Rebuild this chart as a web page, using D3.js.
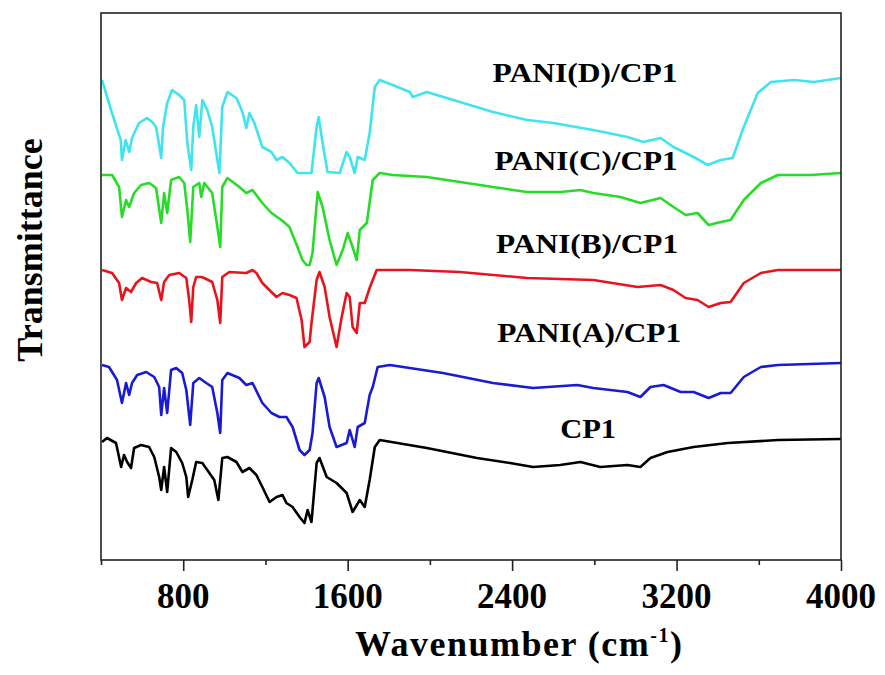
<!DOCTYPE html>
<html>
<head>
<meta charset="utf-8">
<script src="https://cdn.jsdelivr.net/npm/d3@7"></script>
<style>
  body { margin: 0; background: #fff; }
  svg { display: block; }
</style>
</head>
<body>
<svg id="chart"></svg>
<script>
// FTIR spectra, transmittance in arbitrary (offset) units

const seriesNames = ["CP1", "PANI(A)/CP1", "PANI(B)/CP1", "PANI(C)/CP1", "PANI(D)/CP1"];

const wnCP1 = [405, 429, 473, 498, 512, 527, 546, 561, 595, 634, 659, 683, 693, 707, 722, 741, 766, 795, 815, 824, 844, 863, 893, 917, 951, 971, 990, 1015, 1059, 1088, 1122, 1156, 1185, 1220, 1254, 1283, 1302, 1332, 1366, 1390, 1405, 1424, 1449, 1463, 1498, 1546, 1595, 1624, 1659, 1683, 1707, 1732, 1756, 1985, 2229, 2390, 2502, 2634, 2732, 2829, 2961, 3024, 3073, 3156, 3283, 3449, 3693, 4000];
const tCP1 = [119, 123, 118, 94, 106, 99, 93, 113, 116, 114, 104, 84, 71, 94, 69, 113, 109, 98, 84, 64, 81, 99, 98, 91, 81, 61, 103, 104, 99, 89, 93, 86, 74, 59, 64, 66, 58, 54, 44, 38, 51, 39, 98, 103, 84, 78, 68, 49, 61, 54, 81, 114, 121, 113, 103, 98, 94, 96, 99, 94, 96, 94, 103, 109, 114, 118, 121, 122];

const wnA = [405, 439, 478, 502, 522, 537, 551, 576, 620, 659, 683, 693, 707, 722, 741, 766, 795, 815, 834, 849, 878, 912, 941, 966, 980, 990, 1015, 1073, 1107, 1137, 1185, 1229, 1268, 1302, 1332, 1366, 1390, 1415, 1429, 1449, 1459, 1488, 1512, 1546, 1595, 1610, 1634, 1649, 1683, 1707, 1722, 1746, 1805, 1902, 2063, 2307, 2502, 2717, 2795, 2961, 3024, 3073, 3137, 3220, 3283, 3356, 3415, 3463, 3527, 3610, 3693, 4000];
const tA = [196, 194, 181, 158, 178, 166, 178, 186, 189, 184, 174, 146, 173, 148, 191, 193, 188, 171, 136, 178, 183, 178, 174, 148, 128, 181, 188, 183, 176, 178, 158, 148, 144, 144, 134, 111, 106, 111, 128, 178, 183, 164, 134, 114, 118, 131, 114, 134, 138, 166, 174, 194, 196, 193, 188, 178, 173, 176, 173, 169, 164, 174, 176, 169, 169, 163, 168, 168, 184, 194, 196, 198];

const wnB = [405, 454, 488, 502, 522, 546, 571, 600, 644, 673, 693, 707, 732, 780, 815, 829, 839, 849, 863, 888, 902, 941, 966, 980, 990, 1024, 1107, 1137, 1156, 1185, 1229, 1254, 1283, 1317, 1351, 1376, 1390, 1415, 1424, 1449, 1463, 1488, 1512, 1546, 1571, 1595, 1610, 1624, 1644, 1659, 1683, 1707, 1741, 1902, 2146, 2473, 2795, 3010, 3122, 3185, 3244, 3302, 3356, 3415, 3463, 3527, 3610, 3693, 4000];
const tB = [291, 288, 278, 261, 273, 269, 278, 283, 279, 278, 261, 279, 286, 288, 283, 261, 239, 274, 284, 284, 283, 279, 261, 238, 284, 289, 288, 291, 288, 278, 269, 264, 268, 266, 263, 241, 214, 219, 238, 281, 289, 274, 244, 214, 244, 268, 264, 234, 228, 258, 258, 273, 291, 291, 289, 283, 281, 274, 276, 271, 263, 261, 254, 258, 259, 278, 288, 291, 291];

const wnC = [405, 454, 488, 502, 522, 537, 561, 595, 634, 668, 693, 707, 722, 741, 780, 805, 820, 834, 849, 878, 888, 902, 941, 966, 980, 990, 1015, 1073, 1107, 1137, 1185, 1229, 1278, 1317, 1356, 1380, 1400, 1415, 1429, 1454, 1478, 1512, 1546, 1576, 1600, 1624, 1644, 1659, 1693, 1722, 1756, 1819, 1985, 2146, 2307, 2473, 2634, 2732, 2795, 2927, 3024, 3122, 3185, 3244, 3302, 3356, 3415, 3463, 3527, 3610, 3693, 3854, 4000];
const tC = [386, 386, 374, 344, 361, 354, 368, 376, 378, 373, 338, 368, 348, 381, 384, 378, 351, 319, 374, 378, 364, 378, 368, 334, 314, 374, 383, 374, 368, 371, 358, 348, 341, 334, 314, 301, 296, 296, 308, 369, 354, 321, 296, 311, 328, 314, 301, 331, 338, 381, 388, 386, 384, 379, 374, 369, 369, 371, 368, 364, 358, 363, 354, 346, 348, 336, 339, 341, 361, 378, 386, 386, 388];

const wnD = [405, 449, 496, 502, 520, 537, 551, 585, 624, 649, 668, 693, 702, 722, 746, 780, 805, 820, 839, 849, 863, 878, 893, 917, 941, 976, 990, 1015, 1059, 1088, 1107, 1122, 1146, 1185, 1229, 1254, 1283, 1317, 1356, 1424, 1449, 1459, 1478, 1502, 1561, 1595, 1610, 1634, 1649, 1683, 1707, 1732, 1756, 1819, 1902, 1917, 1985, 2146, 2307, 2473, 2600, 2795, 2961, 3039, 3122, 3185, 3283, 3351, 3415, 3473, 3527, 3595, 3659, 3771, 3868, 4000];
const tD = [481, 451, 421, 401, 421, 409, 423, 438, 443, 439, 434, 403, 434, 458, 471, 466, 461, 418, 391, 434, 456, 424, 461, 451, 434, 388, 454, 469, 463, 449, 433, 448, 438, 414, 409, 401, 404, 398, 388, 388, 434, 444, 418, 389, 388, 409, 404, 388, 404, 401, 428, 474, 481, 476, 469, 464, 469, 459, 449, 441, 438, 431, 424, 419, 423, 414, 404, 396, 401, 403, 434, 468, 479, 481, 479, 483];

const xTicks = [400, 800, 1200, 1600, 2000, 2400, 2800, 3200, 3600, 4000];
const xTickLabels = ["", "800", "", "1600", "", "2400", "", "3200", "", "4000"];

// layout
const width = 885, height = 675;
const mLeft = 101, mRight = 841, mTop = 13, mBottom = 560;

const svg = d3.select("#chart").attr("width", width).attr("height", height);

const x = d3.scaleLinear().domain([400, 4000]).range([mLeft, mRight]);
const y = d3.scaleLinear().domain([0, mBottom - mTop]).range([mBottom + 1, mTop + 1]);

const series = [
    { name: seriesNames[0], wn: wnCP1, t: tCP1, color: "#000000", lx: 2770, ly: 123, lw: 56 },
    { name: seriesNames[1], wn: wnA, t: tA, color: "#1a1ad2", lx: 2775, ly: 219, lw: 184 },
    { name: seriesNames[2], wn: wnB, t: tB, color: "#e8141c", lx: 2765, ly: 308, lw: 182 },
    { name: seriesNames[3], wn: wnC, t: tC, color: "#26dc26", lx: 2760, ly: 391, lw: 183 },
    { name: seriesNames[4], wn: wnD, t: tD, color: "#3ee4ee", lx: 2755, ly: 479, lw: 185 }
];

const line = d3.line()
    .x(d => x(d[0]))
    .y(d => y(d[1]));

// spectra
svg.append("g")
    .attr("fill", "none")
    .attr("stroke-width", 2.6)
    .attr("stroke-linejoin", "round")
    .selectAll("path")
    .data(series)
    .join("path")
    .attr("stroke", d => d.color)
    .attr("d", d => line(d3.zip(d.wn, d.t)));

// frame
svg.append("rect")
    .attr("x", mLeft).attr("y", mTop)
    .attr("width", mRight - mLeft).attr("height", mBottom - mTop)
    .attr("fill", "none")
    .attr("stroke", "#222")
    .attr("stroke-width", 1.6);

// x axis ticks
const xAxis = svg.append("g")
    .attr("transform", `translate(0,${mBottom})`)
    .call(d3.axisBottom(x).tickValues(xTicks).tickSize(0).tickFormat(""));
xAxis.select(".domain").remove();
xAxis.selectAll(".tick line")
    .attr("stroke", "#222")
    .attr("stroke-width", 1.6)
    .attr("y2", (d, i) => xTickLabels[i] ? 11 : 5);

svg.append("g")
    .selectAll("text")
    .data(xTicks.filter((d, i) => xTickLabels[i]))
    .join("text")
    .attr("x", d => x(d))
    .attr("y", 608)
    .attr("text-anchor", "middle")
    .style("font", "bold 35px 'Liberation Serif', 'Times New Roman', serif")
    .text(d => xTickLabels[xTicks.indexOf(d)]);

// axis titles
const xTitle = svg.append("text")
    .attr("x", 355)
    .attr("y", 656)
    .style("font", "bold 36px 'Liberation Serif', 'Times New Roman', serif")
    .attr("letter-spacing", 1.5);
xTitle.append("tspan").text("Wavenumber (cm");
xTitle.append("tspan").attr("dy", -14).style("font-size", "20px").text("-1");
xTitle.append("tspan").attr("dy", 14).text(")");

svg.append("text")
    .attr("transform", "translate(42,250) rotate(-90)")
    .attr("text-anchor", "middle")
    .style("font", "bold 36px 'Liberation Serif', 'Times New Roman', serif")
    .text("Transmittance");

// series labels
svg.append("g")
    .selectAll("text")
    .data(series)
    .join("text")
    .attr("x", d => x(d.lx))
    .attr("y", d => y(d.ly))
    .attr("text-anchor", "middle")
    .attr("textLength", d => d.lw)
    .attr("lengthAdjust", "spacingAndGlyphs")
    .style("font", "bold 27px 'Liberation Serif', 'Times New Roman', serif")
    .text(d => d.name);
</script>
</body>
</html>
